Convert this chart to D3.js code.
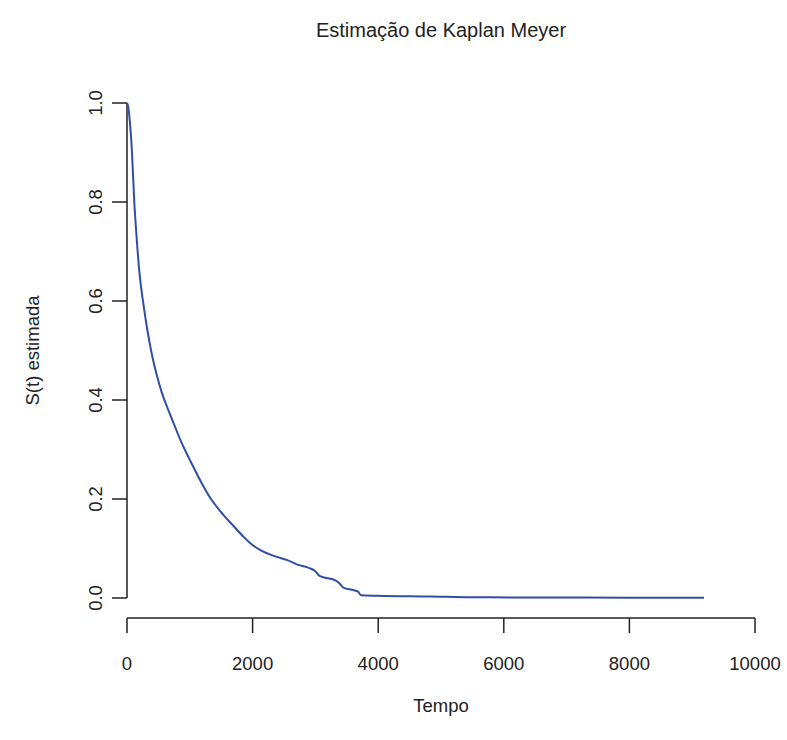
<!DOCTYPE html>
<html>
<head>
<meta charset="utf-8">
<script src="https://cdn.jsdelivr.net/npm/d3@7"></script>
<style>
  html, body { margin: 0; padding: 0; background: #fff; }
  svg { display: block; }
  text { font-family: "Liberation Sans", Arial, Helvetica, sans-serif; fill: #222; }
</style>
</head>
<body>
<svg id="chart" width="787" height="740"></svg>
<script>
// Kaplan-Meier survival estimate: time points and estimated S(t)
const tempo = [0, 15, 32, 50, 75, 100, 116, 140, 164, 190, 220, 260, 313, 393, 473, 552, 632, 711,
  858, 977, 1056, 1190, 1322, 1534, 1700, 1853, 1959, 2118, 2384, 2543, 2702, 2914, 2990, 3073,
  3312, 3380, 3445, 3604, 3680, 3726, 4000, 4825, 5500, 6500, 8000, 9188];
const sobrevida = [1, 0.995, 0.98, 0.955, 0.911, 0.844, 0.80, 0.752, 0.709, 0.668, 0.632, 0.595, 0.550,
  0.494, 0.451, 0.416, 0.388, 0.363, 0.317, 0.285, 0.265, 0.232, 0.203, 0.168, 0.145, 0.124, 0.111,
  0.097, 0.083, 0.077, 0.068, 0.060, 0.055, 0.044, 0.036, 0.030, 0.021, 0.016, 0.013, 0.0055,
  0.0045, 0.003, 0.0015, 0.001, 0.0007, 0.0005];
const xTicks = [0, 2000, 4000, 6000, 8000, 10000];
const yTicks = [0, 0.2, 0.4, 0.6, 0.8, 1.0];

const titulo = "Estimação de Kaplan Meyer";
const rotuloX = "Tempo";
const rotuloY = "S(t) estimada";

const svg = d3.select("#chart");
const x = d3.scaleLinear().domain([0, 10000]).range([127, 755]);
const y = d3.scaleLinear().domain([0, 1]).range([598, 103]);

const axisColor = "#222";
const tickLen = 15;
const fontSize = 18.5;

// x axis (line spans only the tick range, placed below the plot)
const xAxisY = 618;
const gx = svg.append("g");
gx.append("line")
  .attr("x1", x(xTicks[0])).attr("x2", x(xTicks[xTicks.length - 1]))
  .attr("y1", xAxisY).attr("y2", xAxisY)
  .attr("stroke", axisColor).attr("stroke-width", 1.5);
gx.selectAll("line.tick").data(xTicks).enter().append("line")
  .attr("class", "tick")
  .attr("x1", d => x(d)).attr("x2", d => x(d))
  .attr("y1", xAxisY).attr("y2", xAxisY + tickLen)
  .attr("stroke", axisColor).attr("stroke-width", 1.5);
gx.selectAll("text").data(xTicks).enter().append("text")
  .attr("x", d => x(d)).attr("y", 670)
  .attr("text-anchor", "middle")
  .attr("font-size", fontSize)
  .text(d => d3.format("d")(d));

// y axis
const yAxisX = 127;
const gy = svg.append("g");
gy.append("line")
  .attr("x1", yAxisX).attr("x2", yAxisX)
  .attr("y1", y(yTicks[0])).attr("y2", y(yTicks[yTicks.length - 1]))
  .attr("stroke", axisColor).attr("stroke-width", 1.5);
gy.selectAll("line.tick").data(yTicks).enter().append("line")
  .attr("class", "tick")
  .attr("x1", yAxisX - tickLen).attr("x2", yAxisX)
  .attr("y1", d => y(d)).attr("y2", d => y(d))
  .attr("stroke", axisColor).attr("stroke-width", 1.5);
gy.selectAll("text").data(yTicks).enter().append("text")
  .attr("transform", d => `translate(${yAxisX - 25},${y(d)}) rotate(-90)`)
  .attr("text-anchor", "middle")
  .attr("font-size", fontSize)
  .text(d => d3.format(".1f")(d));

// survival curve
const pontos = tempo.map((t, i) => [t, sobrevida[i]]);
svg.append("path")
  .datum(pontos)
  .attr("fill", "none")
  .attr("stroke", "#2f4fa6")
  .attr("stroke-width", 2)
  .attr("stroke-linejoin", "round")
  .attr("d", d3.line().curve(d3.curveMonotoneX).x(d => x(d[0])).y(d => y(d[1])));

// titles
const centroX = (x(0) + x(10000)) / 2;
svg.append("text")
  .attr("x", centroX).attr("y", 37)
  .attr("text-anchor", "middle")
  .attr("font-size", 20)
  .text(titulo);
svg.append("text")
  .attr("x", centroX).attr("y", 712)
  .attr("text-anchor", "middle")
  .attr("font-size", 18.5)
  .text(rotuloX);
svg.append("text")
  .attr("transform", `translate(39,${(y(0) + y(1)) / 2}) rotate(-90)`)
  .attr("text-anchor", "middle")
  .attr("font-size", 18.5)
  .text(rotuloY);
</script>
</body>
</html>
